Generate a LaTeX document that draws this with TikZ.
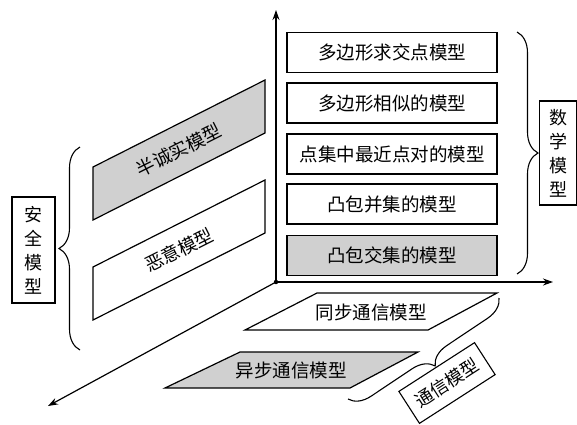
\documentclass[tikz,border=0pt]{standalone}
\usepackage{fontspec}
\setmainfont{Noto Sans CJK SC}
\usetikzlibrary{arrows.meta,decorations.pathreplacing}
\definecolor{boxgray}{HTML}{D0D0D0}
\tikzset{
  mbox/.style={draw,line width=1.2pt,minimum width=210pt,minimum height=40pt,inner sep=0pt,font=\fontsize{18.5}{20}\selectfont},
  vlabel/.style={draw,line width=1.1pt,inner sep=0pt,align=center,font=\fontsize{18}{24}\selectfont},
  axis/.style={line width=1.2pt,-{Stealth[length=10pt,width=7pt]}},
  para/.style={line width=1.2pt},
  ptext/.style={font=\fontsize{18.5}{20}\selectfont,inner sep=0pt},
  bracedec/.style={line width=1.1pt,decorate,decoration={brace,amplitude=21pt}}
}
\begin{document}
\begin{tikzpicture}[x=1pt,y=-1pt]
\useasboundingbox (0,0) rectangle (577,424);
% axes
\coordinate (O) at (276,282);
\coordinate (ytop) at (276,10);
\coordinate (xend) at (553,282);
\coordinate (zend) at (48,406);
\draw[axis] (O) -- (ytop);
\draw[axis] (O) -- (xend);
\draw[axis] (O) -- (zend);
\fill (O) circle (2.2pt);
% right stacked boxes
\node[mbox] (m1) at (392,52.5) {多边形求交点模型};
\node[mbox] (m2) at (392,103) {多边形相似的模型};
\node[mbox] (m3) at (392,154) {点集中最近点对的模型};
\node[mbox] (m4) at (392,204) {凸包并集的模型};
\node[mbox,fill=boxgray] (m5) at (392,255.5) {凸包交集的模型};
\node[vlabel,minimum width=37pt,minimum height=104pt] (math) at (558,153) {数\\学\\模\\型};
\draw[bracedec] (517,32) -- (517,274);
% left vertical parallelograms
\draw[para,fill=boxgray] (93,167) -- (265,80) -- (265,133) -- (93,220) -- cycle;
\node[ptext,rotate=26.7] (semi) at (179,150) {半诚实模型};
\draw[para] (93,267) -- (265,180) -- (265,233) -- (93,320) -- cycle;
\node[ptext,rotate=26.7] (mal) at (179,250) {恶意模型};
\node[vlabel,minimum width=43pt,minimum height=106pt] (sec) at (33.5,250) {安\\全\\模\\型};
\draw[bracedec] (80,350) -- (80,147);
% bottom parallelograms
\draw[para] (317,293) -- (497,293) -- (428,330) -- (245,330) -- cycle;
\node[ptext] (sync) at (371,312) {同步通信模型};
\draw[para,fill=boxgray] (240,352) -- (418,352) -- (350,388) -- (165,388) -- cycle;
\node[ptext] (async) at (291,370) {异步通信模型};
\draw[bracedec] (499,298) -- (348,399);
\node[draw,line width=1.1pt,rotate=32.8,minimum width=90pt,minimum height=38pt,inner sep=0pt,font=\fontsize{18}{20}\selectfont] (comm) at (447,383) {通信模型};
\end{tikzpicture}
\end{document}
